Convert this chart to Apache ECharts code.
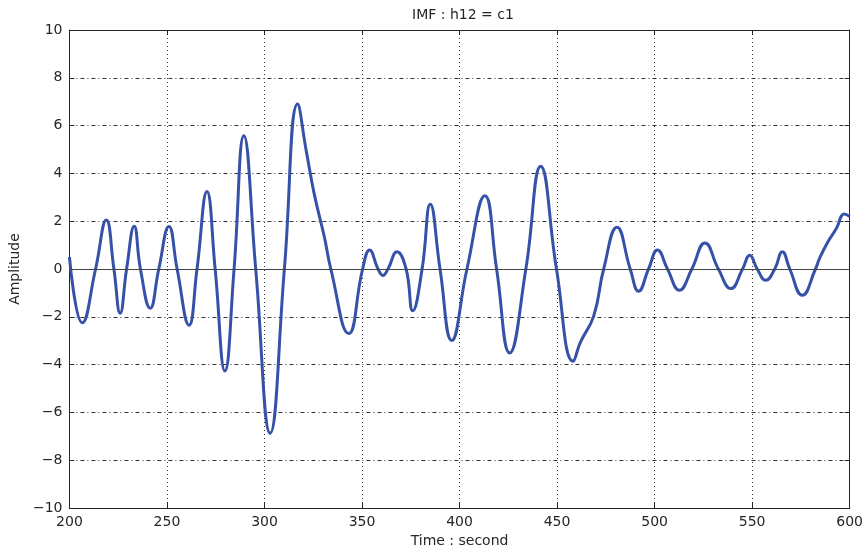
<!DOCTYPE html>
<html>
<head>
<meta charset="utf-8">
<script src="https://cdn.jsdelivr.net/npm/echarts@6/dist/echarts.min.js"></script>
<style>
  html, body { margin: 0; padding: 0; background: #fff; }
  #chart { width: 866px; height: 553px; }
</style>
</head>
<body>
<div id="chart"></div>
<script>
// Intrinsic mode function c1: time (s) and amplitude at turning points and zero crossings
const timeSec = [
  200, 206.6, 213.4, 218.9, 222.8, 226, 229.3, 233.2, 236.4, 241.4,
  245.8, 251, 255.2, 261.3, 265.4, 270.5, 274.7, 279.7, 284.4, 289.4,
  295.5, 302.9, 310.2, 317, 321.5, 325.6, 330.7, 334, 343.2, 350.3,
  353.9, 358.2, 360.7, 363.3, 367.9, 372.6, 376, 380.8, 385, 390,
  396, 403.8, 413, 419, 425.7, 434, 441.6, 449.7, 458.3, 462,
  468.8, 473.9, 480.7, 487.5, 491.8, 496.9, 501.5, 506.6, 512.7, 519.1,
  525.8, 532.7, 539.1, 545.1, 548.8, 552.6, 557, 561.6, 565.5, 569.3,
  575.7, 582.5, 584.6, 588.8, 593.1, 597.3, 600
];
const amplitude = [
  0.5, -2.25, 0, 2.05, 0, -1.85, 0, 1.79, 0, -1.64,
  0, 1.78, 0, -2.35, 0, 3.24, 0, -4.27, 0, 5.58,
  0, -6.87, 0, 6.9, 4.9, 3.1, 1.34, 0, -2.7, 0,
  0.79, 0, -0.27, 0, 0.72, 0, -1.75, 0, 2.71, 0,
  -2.99, 0, 3.06, 0, -3.51, 0, 4.3, 0, -3.86, -3.06,
  -1.96, 0, 1.75, 0, -0.93, 0, 0.79, 0, -0.89, 0,
  1.09, 0, -0.82, 0, 0.58, 0, -0.47, 0, 0.72, 0,
  -1.1, 0, 0.45, 1.13, 1.68, 2.3, 2.2
];
const xTicks = [200, 250, 300, 350, 400, 450, 500, 550, 600];
const yTicks = [-10, -8, -6, -4, -2, 0, 2, 4, 6, 8, 10];

const points = timeSec.map((t, i) => [t, amplitude[i]]);
const ink = '#262626';
const fontFamily = 'DejaVu Sans, Liberation Sans, sans-serif';
const labelFont = { color: ink, fontSize: 14, fontFamily: fontFamily };

const chart = echarts.init(document.getElementById('chart'), null, { renderer: 'canvas' });
chart.setOption({
  animation: false,
  backgroundColor: '#fff',
  title: {
    text: 'IMF : h12 = c1',
    left: 458, top: 3, textAlign: 'center',
    textStyle: { color: ink, fontSize: 14, fontWeight: 'normal', fontFamily: fontFamily }
  },
  grid: { left: 67, right: 16, top: 30, bottom: 38, containLabel: false },
  xAxis: [{
    type: 'value', min: xTicks[0], max: xTicks[xTicks.length - 1], interval: 50,
    name: 'Time : second', nameLocation: 'middle', nameGap: 26,
    nameTextStyle: labelFont,
    axisLine: { show: true, onZero: false, lineStyle: { color: ink, width: 1 } },
    axisTick: { show: true, inside: true, length: 5, lineStyle: { color: ink } },
    axisLabel: Object.assign({ margin: 7 }, labelFont),
    splitLine: { show: true, lineStyle: { color: '#333', width: 1, type: [1, 3] } }
  }, {
    type: 'value', position: 'top', min: xTicks[0], max: xTicks[xTicks.length - 1], interval: 50,
    axisLine: { show: true, onZero: false, lineStyle: { color: ink, width: 1 } },
    axisTick: { show: true, inside: true, length: 5, lineStyle: { color: ink } },
    axisLabel: { show: false }, splitLine: { show: false }
  }],
  yAxis: [{
    type: 'value', min: yTicks[0], max: yTicks[yTicks.length - 1], interval: 2,
    name: 'Amplitude', nameLocation: 'middle', nameGap: 33, nameRotate: 90,
    nameTextStyle: labelFont,
    axisLine: { show: true, onZero: false, lineStyle: { color: ink, width: 1 } },
    axisTick: { show: true, inside: true, length: 5, lineStyle: { color: ink } },
    axisLabel: Object.assign({ margin: 7, formatter: v => v < 0 ? '\u2212' + Math.abs(v) : String(v) }, labelFont),
    splitLine: { show: true, lineStyle: { color: '#333', width: 1, type: [4, 3, 1, 3] } }
  }, {
    type: 'value', position: 'right', min: yTicks[0], max: yTicks[yTicks.length - 1], interval: 2,
    axisLine: { show: true, onZero: false, lineStyle: { color: ink, width: 1 } },
    axisTick: { show: true, inside: true, length: 5, lineStyle: { color: ink } },
    axisLabel: { show: false }, splitLine: { show: false }
  }],
  series: [{
    type: 'line',
    data: points,
    smooth: 0.48,
    showSymbol: false,
    lineStyle: { color: '#3652a8', width: 3 },
    markLine: {
      silent: true, symbol: 'none', label: { show: false },
      lineStyle: { color: '#444', width: 1, type: 'solid' },
      data: [{ yAxis: 0 }]
    },
    z: 3
  }]
});
</script>
</body>
</html>
